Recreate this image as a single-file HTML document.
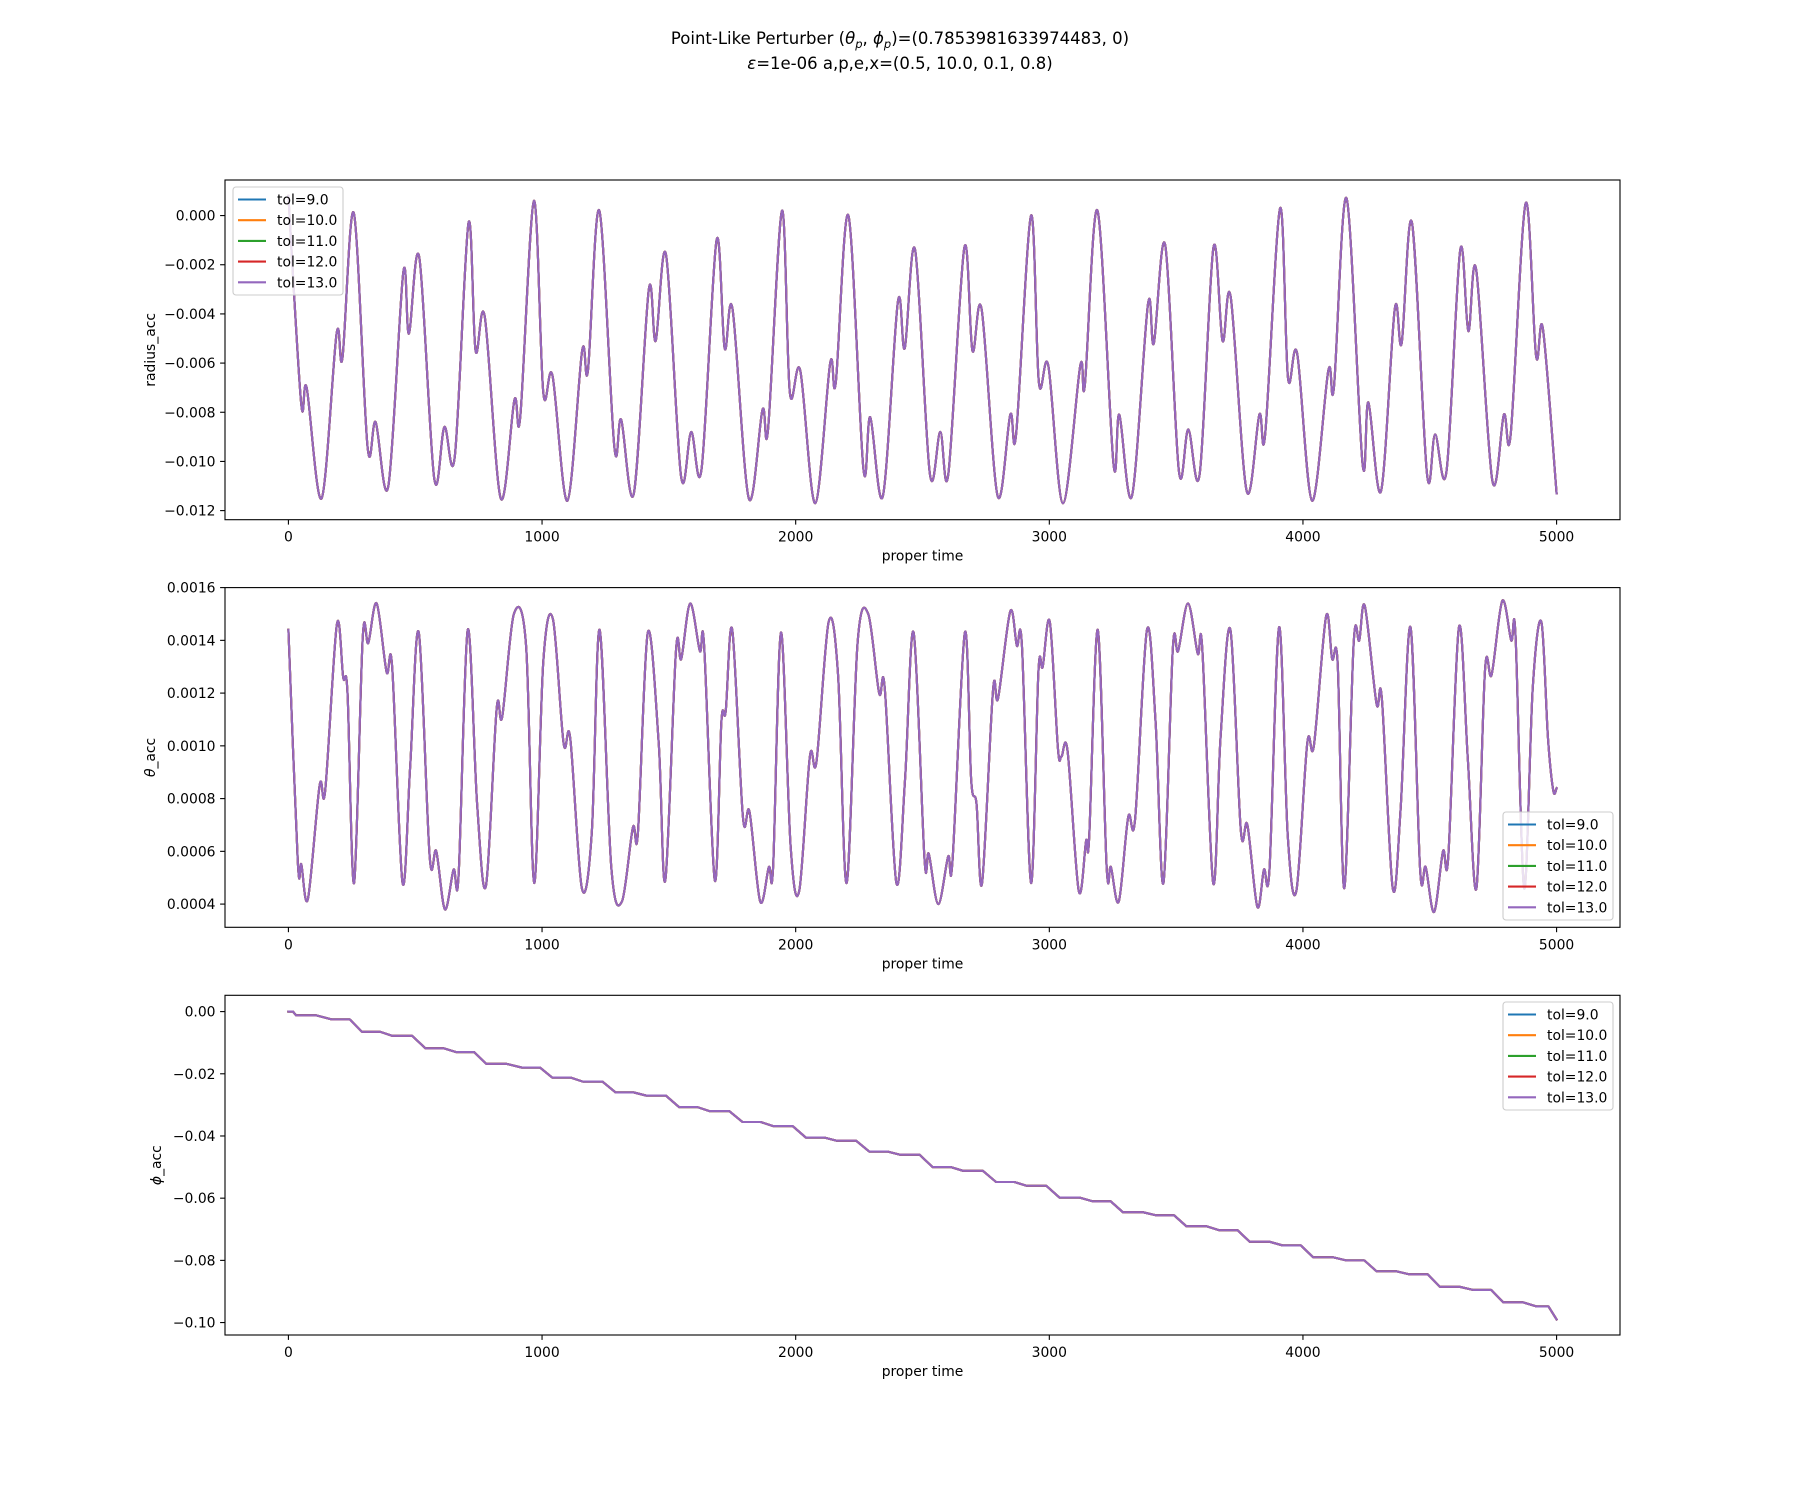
<!DOCTYPE html>
<html><head><meta charset="utf-8">
<style>
html,body{margin:0;padding:0;background:#fff;}
svg{display:block;font-family:"DejaVu Sans","Liberation Sans",sans-serif;}
</style></head>
<body>
<svg id="fig" width="1800" height="1500" viewBox="0 0 1800 1500" xmlns="http://www.w3.org/2000/svg">
<rect x="0" y="0" width="1800" height="1500" fill="#fff"/>
<text x="900" y="44" text-anchor="middle" font-size="16.5" fill="#000">Point-Like Perturber (<tspan font-style="italic">θ</tspan><tspan font-size="11.5" dy="4" font-style="italic">p</tspan><tspan dy="-4">, </tspan><tspan font-style="italic">ϕ</tspan><tspan font-size="11.5" dy="4" font-style="italic">p</tspan><tspan dy="-4">)=(0.7853981633974483, 0)</tspan></text>
<text x="900" y="69" text-anchor="middle" font-size="16.5" fill="#000"><tspan font-style="italic">ε</tspan>=1e-06 a,p,e,x=(0.5, 10.0, 0.1, 0.8)</text>
<g id="plots"></g>
</svg>
<script>
// ---- shared x data ----
const xTicks = [0, 1000, 2000, 3000, 4000, 5000];
const tolLabels = ["tol=9.0", "tol=10.0", "tol=11.0", "tol=12.0", "tol=13.0"];
const tolColors = ["#1f77b4", "#ff7f0e", "#2ca02c", "#d62728", "#9467bd"];

// ---- radius_acc ----
const radiusT = [0,50,72,131,190,213,258,312,344,394,453,475,516,575,615,656,710,738,774,837,891,914,968,1005,1041,1100,1158,1181,1226,1285,1312,1362,1421,1448,1489,1548,1588,1629,1688,1720,1751,1815,1869,1891,1946,1977,2018,2077,2136,2158,2208,2267,2294,2344,2403,2430,2471,2529,2570,2602,2665,2697,2733,2796,2846,2869,2928,2959,2996,3054,3122,3140,3190,3253,3276,3326,3389,3412,3457,3511,3548,3593,3647,3683,3715,3778,3828,3851,3910,3941,3977,4036,4100,4122,4172,4235,4258,4308,4362,4389,4430,4489,4521,4566,4620,4652,4683,4747,4792,4819,4878,4919,4946,5000];
const radiusV = [0.0008,-0.0076,-0.007,-0.0115,-0.0048,-0.0058,0.0001,-0.0094,-0.0084,-0.011,-0.0023,-0.0048,-0.0017,-0.0107,-0.0086,-0.0098,-0.0003,-0.0055,-0.0041,-0.0115,-0.0075,-0.0082,0.0006,-0.0072,-0.0065,-0.0116,-0.0055,-0.0063,0.0002,-0.0094,-0.0083,-0.0113,-0.003,-0.0051,-0.0016,-0.0106,-0.0088,-0.0103,-0.001,-0.0054,-0.0038,-0.0115,-0.0079,-0.0087,0.0002,-0.0072,-0.0063,-0.0117,-0.006,-0.0068,0,-0.0103,-0.0082,-0.0114,-0.0035,-0.0054,-0.0014,-0.0105,-0.0088,-0.0105,-0.0013,-0.0055,-0.0038,-0.0114,-0.0081,-0.0089,0,-0.0068,-0.0061,-0.0117,-0.0061,-0.0069,0.0002,-0.0101,-0.0081,-0.0114,-0.0036,-0.0052,-0.0012,-0.0104,-0.0087,-0.0105,-0.0013,-0.0051,-0.0033,-0.0112,-0.0081,-0.0089,0.0003,-0.0066,-0.0056,-0.0116,-0.0063,-0.007,0.0007,-0.0101,-0.0076,-0.0112,-0.0038,-0.0052,-0.0003,-0.0105,-0.0089,-0.0104,-0.0014,-0.0047,-0.0022,-0.0108,-0.0081,-0.0089,0.0005,-0.0057,-0.0046,-0.0113];
const radiusTicks = [0, -0.002, -0.004, -0.006, -0.008, -0.010, -0.012];
const radiusTickLabels = ["0.000","\u22120.002","\u22120.004","\u22120.006","\u22120.008","\u22120.010","\u22120.012"];

// ---- theta_acc ----
const thetaT = [0,37,51,77,123,145,191,216,233,259,293,315,348,387,409,450,480,514,557,583,617,651,671,707,744,779,821,843,889,937,969,1005,1043,1085,1111,1157,1196,1227,1273,1315,1358,1378,1417,1460,1486,1528,1549,1584,1622,1639,1681,1707,1724,1750,1792,1818,1860,1894,1911,1942,1980,2014,2056,2082,2130,2167,2201,2244,2286,2329,2351,2397,2431,2465,2508,2525,2562,2601,2618,2667,2692,2713,2735,2778,2798,2846,2872,2892,2928,2957,2974,3002,3034,3048,3072,3116,3145,3157,3191,3226,3243,3274,3311,3338,3385,3419,3450,3487,3508,3547,3585,3603,3646,3675,3714,3755,3781,3820,3846,3868,3906,3940,3974,4017,4043,4091,4115,4137,4163,4200,4222,4244,4290,4311,4354,4385,4424,4462,4484,4517,4552,4573,4615,4650,4684,4718,4744,4786,4821,4838,4872,4906,4940,4966,4987,5000];
const thetaV = [0.00144,0.00056,0.00055,0.00042,0.00085,0.00083,0.00146,0.00126,0.0012,0.00048,0.00141,0.00139,0.00154,0.00128,0.0013,0.00048,0.00092,0.00143,0.00058,0.0006,0.00038,0.00053,0.00051,0.00144,0.00078,0.00047,0.00114,0.00111,0.0015,0.00138,0.00048,0.00132,0.00148,0.00101,0.00103,0.00046,0.00067,0.00144,0.00054,0.00041,0.00069,0.00067,0.00143,0.00101,0.00049,0.00136,0.00133,0.00154,0.00136,0.00138,0.00049,0.00109,0.00113,0.00144,0.00073,0.00075,0.00041,0.00054,0.00054,0.00143,0.00062,0.00045,0.00096,0.00094,0.00147,0.00127,0.00048,0.00139,0.0015,0.0012,0.00122,0.00048,0.00087,0.00143,0.00057,0.00059,0.0004,0.00058,0.00056,0.00143,0.00087,0.00078,0.00048,0.00121,0.00118,0.00151,0.00138,0.00138,0.00048,0.00128,0.0013,0.00147,0.00099,0.00096,0.00098,0.00045,0.00064,0.00065,0.00144,0.00054,0.00054,0.00041,0.00073,0.00072,0.00144,0.00109,0.00048,0.00137,0.00136,0.00154,0.00135,0.00137,0.00048,0.00103,0.00144,0.00068,0.0007,0.00039,0.00053,0.00053,0.00145,0.00066,0.00045,0.00101,0.001,0.00149,0.00133,0.00131,0.00046,0.00139,0.0014,0.00153,0.00116,0.00118,0.00046,0.00076,0.00145,0.00053,0.00054,0.00037,0.0006,0.00058,0.00145,0.00095,0.00046,0.00129,0.00127,0.00155,0.0014,0.00142,0.00046,0.00122,0.00147,0.00103,0.00083,0.00084];
const thetaTicks = [0.0004, 0.0006, 0.0008, 0.0010, 0.0012, 0.0014, 0.0016];
const thetaTickLabels = ["0.0004","0.0006","0.0008","0.0010","0.0012","0.0014","0.0016"];

// ---- phi_acc (staircase plateaus) ----
const phiT = [0,30,170,290,410,540,660,780,920,1040,1160,1290,1410,1540,1660,1790,1910,2040,2160,2290,2410,2540,2660,2790,2910,3040,3170,3290,3420,3540,3670,3790,3920,4040,4170,4290,4420,4540,4670,4790,4920];
const phiV = [0,-0.0012,-0.0025,-0.0065,-0.0078,-0.0118,-0.013,-0.0168,-0.018,-0.0212,-0.0225,-0.026,-0.027,-0.0307,-0.032,-0.0355,-0.0368,-0.0405,-0.0415,-0.045,-0.046,-0.05,-0.0512,-0.0548,-0.056,-0.0598,-0.061,-0.0645,-0.0655,-0.069,-0.0703,-0.074,-0.0752,-0.079,-0.08,-0.0835,-0.0845,-0.0885,-0.0895,-0.0935,-0.0948];
const phiEnd = [5000, -0.099];
const phiTicks = [0, -0.02, -0.04, -0.06, -0.08, -0.10];
const phiTickLabels = ["0.00","\u22120.02","\u22120.04","\u22120.06","\u22120.08","\u22120.10"];

const NS = "http://www.w3.org/2000/svg";
const root = document.getElementById("plots");
function mk(tag, attrs, parent) {
  const e = document.createElementNS(NS, tag);
  for (const k in attrs) e.setAttribute(k, attrs[k]);
  (parent || root).appendChild(e);
  return e;
}
const AX_L = 225, AX_R = 1620, XMIN = -250, XMAX = 5250;
function xs(t) { return AX_L + (t - XMIN) / (XMAX - XMIN) * (AX_R - AX_L); }

function smoothPath(pts) {
  let d = "M" + pts[0][0].toFixed(2) + "," + pts[0][1].toFixed(2);
  for (let i = 0; i < pts.length - 1; i++) {
    const p0 = pts[Math.max(0, i - 1)], p1 = pts[i], p2 = pts[i + 1], p3 = pts[Math.min(pts.length - 1, i + 2)];
    const c1x = p1[0] + (p2[0] - p0[0]) / 6, c1y = p1[1] + (p2[1] - p0[1]) / 6;
    const c2x = p2[0] - (p3[0] - p1[0]) / 6, c2y = p2[1] - (p3[1] - p1[1]) / 6;
    d += "C" + c1x.toFixed(2) + "," + c1y.toFixed(2) + " " + c2x.toFixed(2) + "," + c2y.toFixed(2) + " " + p2[0].toFixed(2) + "," + p2[1].toFixed(2);
  }
  return d;
}

function axes(cfg) {
  const top = cfg.top, bot = cfg.top + 339.7;
  const ys = v => top + (cfg.ymax - v) / (cfg.ymax - cfg.ymin) * (bot - top);
  const g = mk("g", {});
  
  
  const clipId = "clip-" + cfg.name;
  const cp = mk("clipPath", { id: clipId }, g);
  mk("rect", { x: AX_L, y: top, width: AX_R - AX_L, height: bot - top }, cp);
  const sg = mk("g", { "clip-path": "url(#" + clipId + ")" }, g);
  const pts = cfg.pts(ys);
  const d = cfg.straight ? "M" + pts.map(p => p[0].toFixed(2) + "," + p[1].toFixed(2)).join("L") : smoothPath(pts);
  tolColors.forEach((c, i) => {
    const p = mk("path", { d: d, fill: "none", stroke: c, "stroke-width": 2.1, "stroke-linejoin": "round", "stroke-linecap": "square" }, sg);
    
    
  });
  const fr = mk("rect", { x: AX_L, y: top, width: AX_R - AX_L, height: bot - top, fill: "none", stroke: "#000", "stroke-width": 1.1 }, g);
  
  
  xTicks.forEach(t => {
    const x = xs(t);
    mk("line", { x1: x, x2: x, y1: bot, y2: bot + 4.9, stroke: "#000", "stroke-width": 1.1 }, g);
    const tx = mk("text", { x: x, y: bot + 22, "text-anchor": "middle", "font-size": 13.9, fill: "#000" }, g);
    tx.textContent = String(t);
    
    
  });
  const xl = mk("text", { x: (AX_L + AX_R) / 2, y: bot + 41, "text-anchor": "middle", "font-size": 13.9, fill: "#000" }, g);
  xl.textContent = "proper time";
  
  
  cfg.yticks.forEach((v, i) => {
    const y = ys(v);
    mk("line", { x1: AX_L - 4.9, x2: AX_L, y1: y, y2: y, stroke: "#000", "stroke-width": 1.1 }, g);
    const tx = mk("text", { x: AX_L - 9.5, y: y + 5, "text-anchor": "end", "font-size": 13.9, fill: "#000" }, g);
    tx.textContent = cfg.ylabels[i];
    
    
  });
  const yl = mk("text", { x: 0, y: 0, "text-anchor": "middle", "font-size": 13.9, fill: "#000", transform: "translate(" + cfg.ylabelX + "," + (top + bot) / 2 + ") rotate(-90)" }, g);
  yl.innerHTML = cfg.ylabel;
  
  
  const lx = cfg.legend[0], ly = cfg.legend[1];
  const lg = mk("g", {}, g);
  
  
  mk("rect", { x: lx, y: ly, width: 110, height: 108, rx: 3, fill: "#fff", "fill-opacity": 0.8, stroke: "#cccccc", "stroke-width": 1.1 }, lg);
  tolLabels.forEach((lab, i) => {
    const yy = ly + 12.5 + i * 20.7;
    const e = mk("g", {}, lg);
    
    
    mk("line", { x1: lx + 5, x2: lx + 33, y1: yy, y2: yy, stroke: tolColors[i], "stroke-width": 2.1 }, e);
    const t = mk("text", { x: lx + 44, y: yy + 5, "font-size": 13.9, fill: "#000" }, e);
    t.textContent = lab;
  });
}

axes({
  name: "radius-plot", top: 180, ymax: 0.001447, ymin: -0.01237,
  yticks: radiusTicks, ylabels: radiusTickLabels, ylabel: "radius_acc", ylabelX: 155,
  legend: [233, 187],
  pts: ys => radiusT.map((t, i) => [xs(t), ys(radiusV[i])])
});
axes({
  name: "theta-plot", top: 587.6, ymax: 0.0016, ymin: 0.000312,
  yticks: thetaTicks, ylabels: thetaTickLabels, ylabel: '<tspan font-style="italic">θ</tspan>_acc', ylabelX: 155,
  legend: [1503, 812],
  pts: ys => thetaT.map((t, i) => [xs(t), ys(thetaV[i])])
});
axes({
  name: "phi-plot", top: 995.3, ymax: 0.00524, ymin: -0.104,
  yticks: phiTicks, ylabels: phiTickLabels, ylabel: '<tspan font-style="italic">ϕ</tspan>_acc', ylabelX: 161,
  legend: [1503, 1002], straight: true,
  pts: ys => {
    const out = [];
    phiT.forEach((t, i) => {
      const nextT = i + 1 < phiT.length ? phiT[i + 1] : phiEnd[0];
      const plat = Math.min(80, (nextT - t) * 0.6);
      out.push([xs(t), ys(phiV[i])]);
      out.push([xs(t + plat), ys(phiV[i])]);
    });
    out.push([xs(phiEnd[0]), ys(phiEnd[1])]);
    return out;
  }
});
</script>
</body></html>
